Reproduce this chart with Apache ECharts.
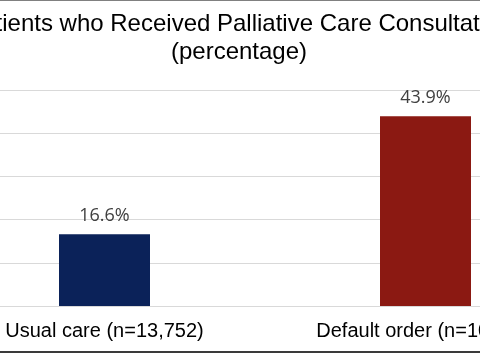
<!DOCTYPE html>
<html>
<head>
<meta charset="utf-8">
<script src="https://cdn.jsdelivr.net/npm/echarts@6/dist/echarts.min.js"></script>
<style>
  html, body { margin: 0; padding: 0; background: #fff; }
  #wrap { position: relative; width: 480px; height: 353px; overflow: hidden; }
  /* the plot runs past both edges of the picture, so the chart is wider and shifted left */
  #chart { position: absolute; left: -56px; top: 0; width: 642px; height: 353px; }
</style>
</head>
<body>
<div id="wrap"><div id="chart"></div></div>
<script>
// data
const categories = ["Usual care (n=13,752)", "Default order (n=10,267)"];
const values = [16.6, 43.9];
const barColors = ["#0b2259", "#8b1912"];
const titleText = "Patients who Received Palliative Care Consultation\n(percentage)";

const offsetX = 56; // how far the chart div sticks out on the left

const chart = echarts.init(document.getElementById("chart"));
const option = {
  animation: false,
  grid: {
    left: 0,
    right: 0,
    top: 90,
    bottom: 47,
  },
  xAxis: {
    type: "category",
    data: categories,
    axisTick: { show: false },
    axisLine: { show: true, lineStyle: { color: "#d9d9d9", width: 1 } },
    axisLabel: {
      fontFamily: "Liberation Sans",
      fontSize: 20,
      color: "#000",
      margin: 15,
      interval: 0,
    },
  },
  yAxis: {
    type: "value",
    min: 0,
    max: 50,
    interval: 10,
    axisLabel: { show: false },
    axisLine: { show: false },
    axisTick: { show: false },
    splitLine: { lineStyle: { color: "#d9d9d9", width: 1 } },
  },
  series: [
    {
      type: "bar",
      barWidth: 91,
      data: values.map((v, i) => ({ value: v, itemStyle: { color: barColors[i] } })),
      label: {
        show: true,
        position: "top",
        distance: 9,
        formatter: (p) => p.value.toFixed(1) + "%",
        fontFamily: "Open Sans",
        fontSize: 18,
        color: "#404040",
      },
    },
  ],
  graphic: [
    // title
    {
      type: "text",
      x: offsetX + 239,
      y: 10,
      style: {
        text: titleText,
        align: "center",
        verticalAlign: "top",
        fontFamily: "Liberation Sans",
        fontSize: 24,
        lineHeight: 28,
        fill: "#000",
      },
    },
    // frame lines at top and bottom
    { type: "rect", shape: { x: offsetX, y: 0, width: 480, height: 1 }, style: { fill: "#808080" } },
    { type: "rect", shape: { x: offsetX, y: 351, width: 480, height: 2 }, style: { fill: "#3a3a3a" } },
  ],
};
chart.setOption(option);
window.addEventListener("resize", () => {
  chart.resize();
});
</script>
</body>
</html>
